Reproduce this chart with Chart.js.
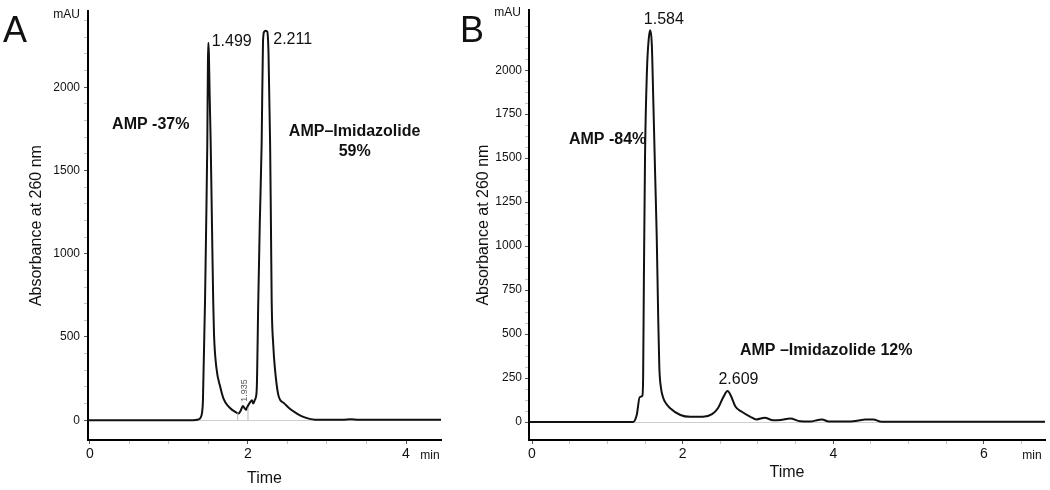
<!DOCTYPE html>
<html>
<head>
<meta charset="utf-8">
<script src="https://cdn.jsdelivr.net/npm/chart.js@4.4.1/dist/chart.umd.min.js"></script>
<style>
  body{margin:0;background:#fff}
  #chartA{position:absolute;left:0;top:0}
  #chartB{position:absolute;left:460px;top:0}
</style>
</head>
<body>
<canvas id="chartA" width="460" height="490"></canvas>
<canvas id="chartB" width="590" height="490"></canvas>
<script>
// --- panel A (min, mAU)
const timeA = [-0.03, 1.30, 1.37, 1.40, 1.42, 1.43, 1.456, 1.47, 1.485, 1.493, 1.498, 1.505, 1.515, 1.528, 1.545, 1.56, 1.57, 1.60, 1.65, 1.69, 1.75, 1.80, 1.84, 1.88, 1.91, 1.935, 1.96, 1.975, 1.99, 2.03, 2.05, 2.065, 2.09, 2.11, 2.13, 2.15, 2.173, 2.19, 2.205, 2.225, 2.244, 2.26, 2.28, 2.29, 2.30, 2.32, 2.34, 2.38, 2.41, 2.45, 2.53, 2.62, 2.70, 2.78, 2.85, 3.20, 3.30, 3.40, 4.45];
const absA  = [0, 0, 4, 15, 50, 120, 712, 1150, 1662, 2150, 2267, 2200, 1950, 1662, 1150, 712, 516, 316, 198, 130, 84, 62, 50, 40, 60, 85, 70, 62, 78, 110, 120, 100, 125, 178, 712, 1200, 1662, 2275, 2334, 2340, 2334, 2200, 1662, 1200, 712, 450, 316, 160, 120, 105, 69, 40, 20, 8, 3, 2, 5, 2, 2];
const dropTimesA = [1.87, 2.00];
const dropHeightsA = [42, 76];

// --- panel B
const timeB = [-0.05, 1.34, 1.39, 1.43, 1.465, 1.475, 1.485, 1.50, 1.526, 1.55, 1.57, 1.59, 1.61, 1.635, 1.655, 1.675, 1.69, 1.71, 1.74, 1.78, 1.83, 1.97, 2.10, 2.27, 2.39, 2.47, 2.54, 2.595, 2.64, 2.70, 2.78, 2.90, 2.98, 3.09, 3.20, 3.30, 3.43, 3.56, 3.69, 3.80, 3.85, 3.94, 4.23, 4.35, 4.42, 4.53, 4.64, 6.85];
const absB  = [0, 0, 40, 142, 150, 250, 800, 1500, 2000, 2180, 2227, 2150, 1830, 1400, 1068, 600, 313, 200, 140, 105, 80, 40, 30, 30, 45, 80, 142, 176, 150, 88, 60, 30, 15, 25, 10, 12, 20, 4, 3, 12, 15, 3, 3, 10, 15, 15, 2, 2];

// tick labels
const yLabelsA = [0, 500, 1000, 1500, 2000];
const yLabelsB = [0, 250, 500, 750, 1000, 1250, 1500, 1750, 2000];
const xLabelsA = [0, 2, 4];
const xLabelsB = [0, 2, 4, 6];

// peak / area annotations
const notesA = ['1.499', '2.211', 'AMP -37%', 'AMP\u2013Imidazolide', '59%', '1.935'];
const notesB = ['1.584', 'AMP -84%', '2.609', 'AMP \u2013Imidazolide 12%'];

const F = '"Liberation Sans", Arial, sans-serif';

function pts(xs, ys){ return xs.map((t,i)=>({x:t, y:ys[i]})); }
function range(a, b, step){ const out=[]; for(let v=a; v<=b+1e-9; v+=step) out.push(+v.toFixed(3)); return out; }

const notesPlugin = {
  id:'notes',
  afterDatasetsDraw(chart, args, opts){
    const {ctx, chartArea} = chart;
    const x = chart.scales.x, y = chart.scales.y;
    ctx.save();
    (opts.items||[]).forEach(n=>{
      ctx.font = n.font;
      ctx.fillStyle = n.color || '#111';
      ctx.textAlign = n.align || 'left';
      ctx.textBaseline = 'middle';
      ctx.save();
      ctx.translate(x.getPixelForValue(n.x), y.getPixelForValue(n.y));
      if (n.rotate) ctx.rotate(n.rotate);
      ctx.fillText(n.text, 0, 0);
      ctx.restore();
    });
    // panel letter, units
    ctx.fillStyle = '#111';
    ctx.textBaseline = 'alphabetic'; ctx.textAlign = 'left';
    ctx.font = '36px ' + F;
    ctx.fillText(opts.letter, opts.letterX, 42);
    ctx.font = '12px ' + F;
    ctx.textBaseline = 'middle'; ctx.textAlign = 'right';
    ctx.fillText('mAU', chartArea.left - 8, opts.mauY);
    ctx.textAlign = 'center';
    ctx.fillText('min', chartArea.right - opts.minOff, 456);
    ctx.restore();
  }
};
Chart.register(notesPlugin);

function makeChart(id, o){
  return new Chart(document.getElementById(id), {
    type:'line',
    data:{datasets:o.datasets},
    options:{
      responsive:false, animation:false,
      layout:{padding:{top:o.top, right:o.right, left:0, bottom:0}},
      plugins:{legend:{display:false}, tooltip:{enabled:false}, notes:o.notes},
      scales:{
        x:{
          type:'linear', min:o.xMin, max:o.xMax,
          afterBuildTicks: s=>{ s.ticks = o.xTicks.map(v=>({value:v})); },
          afterFit: s=>{ s.height = 50; },
          ticks:{autoSkip:false, maxRotation:0, padding:2, color:'#111', font:{size:14, family:F},
                 callback: v => o.xLabels.includes(v) ? String(v) : ''},
          grid:{drawOnChartArea:false, tickLength:4,
                tickColor: c => (c.tick && o.xLabels.includes(c.tick.value)) ? '#555' : '#c4c4c4'},
          border:{color:'#000', width:2},
          title:{display:true, text:'Time', color:'#111', font:{size:16, family:F}, padding:{top:0, bottom:o.timePad}}
        },
        y:{
          min:o.yMin, max:o.yMax,
          afterBuildTicks: s=>{ s.ticks = o.yTicks.map(v=>({value:v})); },
          afterFit: s=>{ s.width = o.yWidth; },
          ticks:{autoSkip:false, padding:o.yPad, color:'#111', font:{size:12, family:F},
                 callback: v => o.yLabels.includes(v) ? String(v) : ''},
          grid:{drawOnChartArea:true, tickLength:4, lineWidth:1,
                color: c => (c.tick && c.tick.value === 0) ? '#cfcfcf' : 'rgba(0,0,0,0)',
                tickColor: c => (c.tick && o.yLabels.includes(c.tick.value)) ? '#555' : '#c4c4c4'},
          border:{color:'#000', width:2},
          title:{display:true, text:'Absorbance at 260 nm', color:'#111', font:{size:16, family:F}, padding:{top:o.yTitlePad, bottom:0}}
        }
      }
    }
  });
}

const trace = {borderColor:'#111', borderWidth:2, pointRadius:0, fill:false, cubicInterpolationMode:'monotone'};
const drops = dropTimesA.map((t,i)=>({data:[{x:t,y:0},{x:t,y:dropHeightsA[i]}], borderColor:'#b8b8b8', borderWidth:1, pointRadius:0}));

makeChart('chartA', {
  top:6, right:19, yWidth:88, yPad:4, yTitlePad:27, timePad:2,
  xMin:-0.025, xMax:4.443, yMin:-119, yMax:2457,
  xTicks:range(0, 4, 0.5), xLabels:xLabelsA,
  yTicks:range(0, 2400, 100), yLabels:yLabelsA,
  datasets:[...drops, Object.assign({data:pts(timeA, absA)}, trace)],
  notes:{letter:'A', letterX:3, mauY:15, minOff:11, items:[
    {text:notesA[0], x:1.54, y:2275, font:'16px '+F},
    {text:notesA[1], x:2.32, y:2285, font:'16px '+F},
    {text:notesA[2], x:0.28, y:1774, font:'bold 16px '+F},
    {text:notesA[3], x:3.35, y:1731, font:'bold 16px '+F, align:'center'},
    {text:notesA[4], x:3.35, y:1612, font:'bold 16px '+F, align:'center'},
    {text:notesA[5], x:1.96, y:178, font:'9px '+F, align:'center', rotate:-Math.PI/2, color:'#555'}
  ]}
});

makeChart('chartB', {
  top:10, right:5, yWidth:69, yPad:3, yTitlePad:14, timePad:8,
  xMin:-0.04, xMax:6.81, yMin:-102, yMax:2341,
  xTicks:range(0, 6.5, 0.5), xLabels:xLabelsB,
  yTicks:range(0, 2250, 62.5), yLabels:yLabelsB,
  datasets:[Object.assign({data:pts(timeB, absB)}, trace)],
  notes:{letter:'B', letterX:0, mauY:13, minOff:13, items:[
    {text:notesB[0], x:1.75, y:2290, font:'16px '+F, align:'center'},
    {text:notesB[1], x:0.49, y:1608, font:'bold 16px '+F},
    {text:notesB[2], x:2.74, y:244, font:'16px '+F, align:'center'},
    {text:notesB[3], x:2.76, y:409, font:'bold 16px '+F}
  ]}
});
</script>
</body>
</html>
